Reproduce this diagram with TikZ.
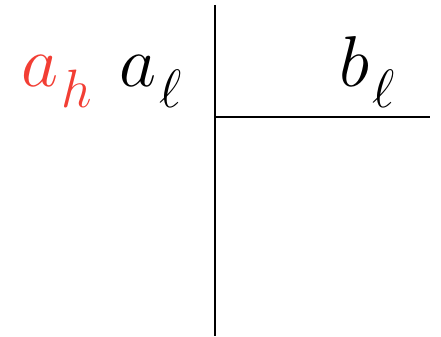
\RequirePackage{fix-cm}
\documentclass[tikz,border=0pt]{standalone}
\usepackage{amsmath,amssymb}
\usepackage{xcolor}
\usetikzlibrary{positioning}
\definecolor{hred}{RGB}{242,62,52}
\newcommand{\lowsub}[1]{_{\hspace{1.5pt}\raisebox{-5pt}{\fontsize{27}{30}\selectfont$#1$}}}

\begin{document}
\begin{tikzpicture}[x=0.5pt, y=-0.5pt,
    var/.style={inner sep=0pt, anchor=base west, font=\fontsize{36}{43}\selectfont},
    rule/.style={line width=1.1pt}]

    \useasboundingbox (0,0) rectangle (441,337);

    % Labels
    \node [var, text=hred] (ah) at (21,87) {$a\lowsub{h}$};
    \node [var] (al) at (119,87) {$a\lowsub{\ell}$};
    \node [var] (bl) at (339,87) {$b\lowsub{\ell}$};

    % Axes
    \coordinate (top) at (215,5);
    \coordinate (bot) at (215,336);
    \coordinate (mid) at (215,117);
    \coordinate (right) at (430,117);
    \draw [rule] (top) -- (bot);
    \draw [rule] (mid) -- (right);

\end{tikzpicture}
\end{document}
